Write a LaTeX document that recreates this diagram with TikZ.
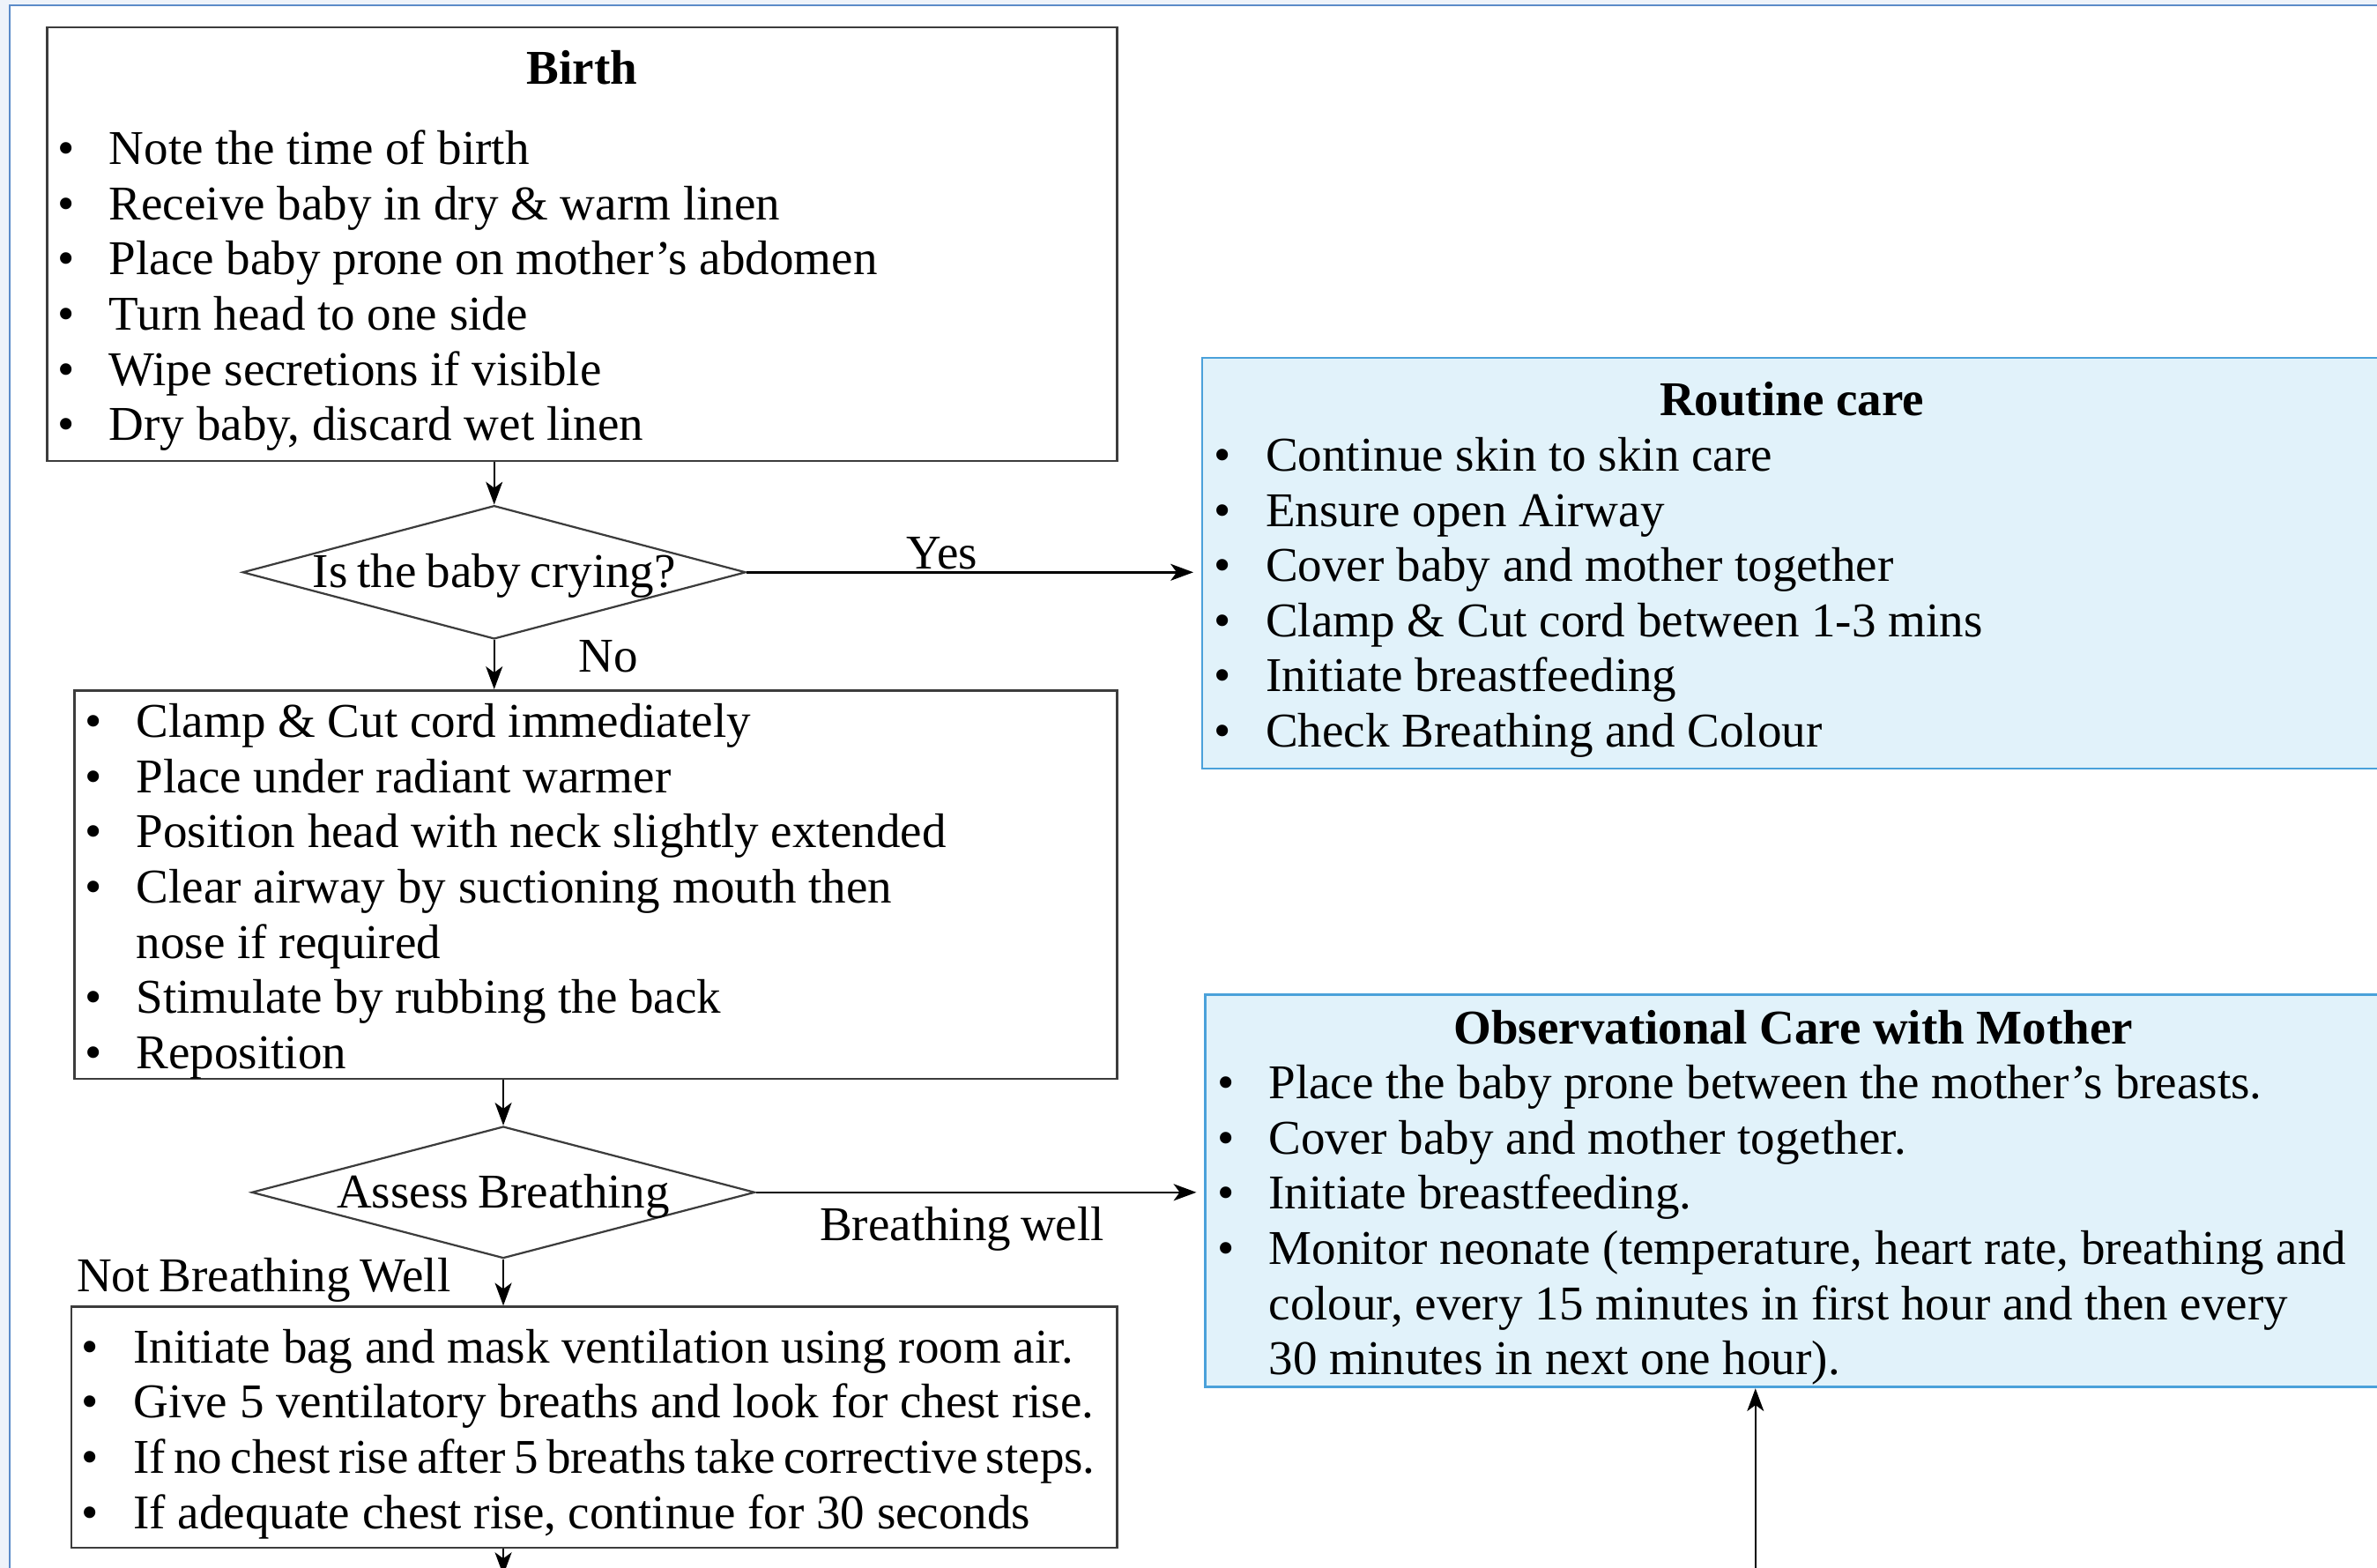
\documentclass[tikz,border=0pt]{standalone}
\usepackage{fontspec}
\setmainfont[WordSpace=0.8]{Liberation Serif}
\usetikzlibrary{arrows.meta, positioning, shapes.geometric}
\definecolor{cPage}{HTML}{EEF3FA}
\definecolor{cFrame}{HTML}{5B8BC9}
\definecolor{cCare}{HTML}{E1F2FA}
\definecolor{cCareLine}{HTML}{4AA1DA}
\definecolor{cLine}{HTML}{3C3C3C}
\newcommand{\itm}[2][0.25em]{\mbox{\spaceskip=#1\relax\makebox[34pt][l]{\textbullet}#2}}
\newcommand{\cont}[1]{\mbox{\spaceskip=0.25em\relax\hspace*{34pt}#1}}
\newcommand{\ttl}[1]{\null\hfill\mbox{\spaceskip=0.25em\relax\textbf{#1}}\hfill\null}
\newcommand{\topfix}{\rule{0pt}{31pt}}

\begin{document}
\begin{tikzpicture}[
  x=1pt, y=1pt,
  font=\fontsize{32}{36.4}\selectfont,
  >={Stealth[length=15pt, width=11pt, inset=4pt]},
  box/.style  = {rectangle, draw=cLine, line width=1.5pt, align=left,
                 inner xsep=7pt, inner ysep=0pt, text width=#1},
  care/.style = {box=#1, fill=cCare, draw=cCareLine, line width=1.6pt, inner xsep=8pt},
  dec/.style  = {diamond, draw=cLine, line width=1.3pt, inner sep=0pt, aspect=3.7,
                 minimum width=332pt, minimum height=88pt,
                 text height=20pt, text depth=0pt},
  arr/.style  = {->, line width=1.4pt},
  lab/.style  = {inner sep=1pt}]

% ---- page frame -----------------------------------------------------------
\useasboundingbox (0,0) rectangle (1568,1034);
\fill[cPage] (0,0) rectangle (1568,1034);
\draw[cFrame, line width=1.4pt, fill=white] (6.5,-20) rectangle (1600,1030.5);

% ---- left column: birth -> resuscitation ----------------------------------
\node[box=692pt, minimum height=286pt] (birth) at (384,873)
  {\topfix\ttl{Birth}\\[16.6pt]
   \itm{Note the time of birth}\\
   \itm{Receive baby in dry \& warm linen}\\
   \itm{Place baby prone on mother's abdomen}\\
   \itm{Turn head to one side}\\
   \itm{Wipe secretions if visible}\\
   \itm{Dry baby, discard wet linen}};
\node[dec] (crying) at (326,656.5) {Is the baby crying?};
\node[box=674pt, minimum height=255pt] (resus) at (393,450.5)
  {\topfix\itm{Clamp \& Cut cord immediately}\\
   \itm{Place under radiant warmer}\\
   \itm{Position head with neck slightly extended}\\
   \itm{Clear airway by suctioning mouth then}\\
   \cont{nose if required}\\
   \itm{Stimulate by rubbing the back}\\
   \itm{Reposition}};
\node[dec, minimum height=87pt] (assess) at (332,247.5) {Assess Breathing};
\node[box=676pt, minimum height=159pt] (bagmask) at (392,92.5)
  {\topfix\itm{Initiate bag and mask ventilation using room air.}\\
   \itm{Give 5 ventilatory breaths and look for chest rise.}\\
   \itm[0.17em]{If no chest rise after 5 breaths take corrective steps.}\\
   \itm{If adequate chest rise, continue for 30 seconds}};

% ---- right column: care with the mother -----------------------------------
\node[care=762pt, minimum height=271pt] (routine) at (1182,662.5)
  {\topfix\ttl{Routine care}\\
   \itm{Continue skin to skin care}\\
   \itm{Ensure open Airway}\\
   \itm{Cover baby and mother together}\\
   \itm{Clamp \& Cut cord between 1-3 mins}\\
   \itm{Initiate breastfeeding}\\
   \itm{Check Breathing and Colour}};
\node[care=760pt, minimum height=259pt] (observe) at (1183,248.5)
  {\topfix\ttl{Observational Care with Mother}\\
   \itm{Place the baby prone between the mother's breasts.}\\
   \itm{Cover baby and mother together.}\\
   \itm{Initiate breastfeeding.}\\
   \itm{Monitor neonate (temperature, heart rate, breathing and}\\
   \cont{colour, every 15 minutes in first hour and then every}\\
   \cont{30 minutes in next one hour).}};

% arrows
\draw[arr] (crying.north |- birth.south) -- (crying.north);
\draw[arr, shorten >=5pt] (crying.east) -- (crying.east -| routine.west)
      node[lab, pos=.43, above] {Yes};
\draw[arr] (crying.south) -- (crying.south |- resus.north)
      node[lab, pos=.33, right=54pt] {No};
\draw[arr] (assess.north |- resus.south) -- (assess.north);
\draw[arr, shorten >=5pt] (assess.east) -- (assess.east -| observe.west)
      node[lab, pos=.46, below=8pt] {Breathing well};
\draw[arr] (assess.south) -- (assess.south |- bagmask.north)
      node[lab, pos=.45, left=33pt] {Not Breathing Well};

% both leave the page at the bottom
\coordinate (down) at (332,-5);
\coordinate (up) at (1158,-5);
\draw[arr] (down |- bagmask.south) -- (down);
\draw[arr] (up) -- (up |- observe.south);

\end{tikzpicture}
\end{document}
